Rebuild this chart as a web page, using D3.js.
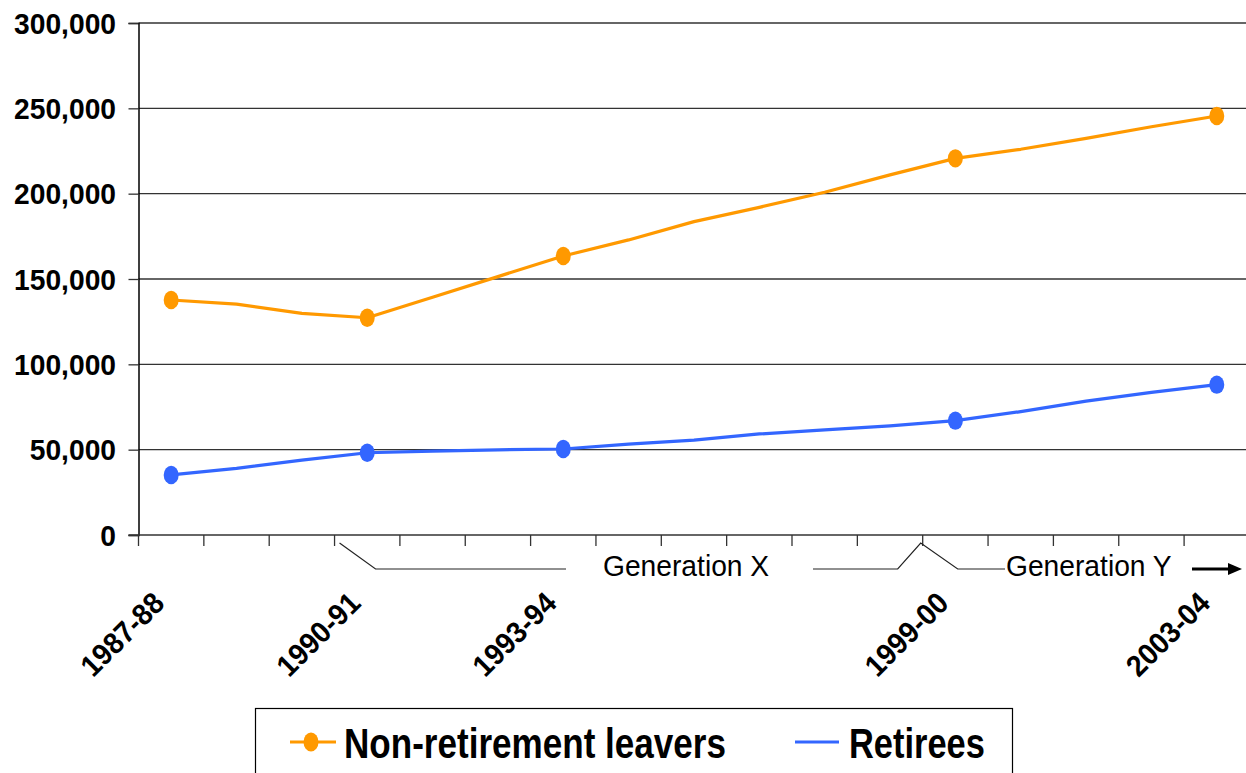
<!DOCTYPE html>
<html>
<head>
<meta charset="utf-8">
<script src="https://cdn.jsdelivr.net/npm/d3@7"></script>
<style>
  html, body { margin: 0; padding: 0; background: #fff; }
  svg { display: block; }
  text { font-family: "Liberation Sans", Arial, sans-serif; }
</style>
</head>
<body>
<svg id="chart" width="1246" height="773"></svg>
<script>
// ---- data ----
const years = ["1987-88","1988-89","1989-90","1990-91","1991-92","1992-93","1993-94","1994-95",
  "1995-96","1996-97","1997-98","1998-99","1999-00","2000-01","2001-02","2002-03","2003-04"];
const labelledYears = ["1987-88","1990-91","1993-94","1999-00","2003-04"];
const nonRetirement = [137700,135300,129900,127300,139300,151400,163500,172900,183600,192000,
  200800,211000,220700,226000,232400,239200,245500];
const retirees = [35200,39000,43900,48200,49200,49900,50400,53200,55600,59200,61600,63900,
  67000,72300,78400,83600,88100];
const yTicks = [0,50000,100000,150000,200000,250000,300000];
const seriesNames = ["Non-retirement leavers","Retirees"];
const generationLabels = ["Generation X","Generation Y"];

(function () {
// ---- layout ----
const svg = d3.select("#chart");
const left = 138.5, bottomY = 535, topY = 23, band = 65.35;
const x = d3.scaleBand().domain(years).range([left, left + band * years.length]).padding(0);
const y = d3.scaleLinear().domain([0, 300000]).range([bottomY, topY]);
const cx = d => x(d) + x.bandwidth() / 2;
const fmt = d3.format(",");

// gridlines
svg.append("g").selectAll("line").data(yTicks.filter(t => t > 0)).join("line")
  .attr("x1", left).attr("x2", 1246)
  .attr("y1", d => y(d)).attr("y2", d => y(d))
  .attr("stroke", "#333").attr("stroke-width", 1.3);

// y axis
const yAxis = svg.append("g").attr("transform", `translate(${left},0)`)
  .call(d3.axisLeft(y).tickValues(yTicks).tickSize(10).tickFormat(""));
yAxis.select(".domain").attr("stroke", "#000").attr("stroke-width", 1.5);
yAxis.selectAll(".tick line").attr("stroke", "#333").attr("stroke-width", 1.3);

svg.append("g").selectAll("text").data(yTicks).join("text")
  .attr("transform", d => `translate(116,${y(d)}) scale(0.94,1)`)
  .attr("text-anchor", "end").attr("dy", "0.36em")
  .attr("font-size", 30).attr("font-weight", "bold").attr("fill", "#000")
  .text(d => fmt(d));

// x axis line + ticks at band boundaries
svg.append("line").attr("x1", left - 10).attr("x2", 1246)
  .attr("y1", bottomY).attr("y2", bottomY).attr("stroke", "#333").attr("stroke-width", 1.5);
const boundaries = d3.range(years.length + 1).map(i => left + i * x.bandwidth());
svg.append("g").selectAll("line").data(boundaries).join("line")
  .attr("x1", d => d).attr("x2", d => d).attr("y1", bottomY).attr("y2", bottomY + 11)
  .attr("stroke", "#333").attr("stroke-width", 1.3);

// x labels
svg.append("g").selectAll("text").data(labelledYears).join("text")
  .attr("transform", d => `translate(${cx(d) - 5},605) rotate(-45) scale(0.94,1)`)
  .attr("text-anchor", "end")
  .attr("font-size", 30).attr("font-weight", "bold").attr("fill", "#000")
  .text(d => d);

// lines
const colors = ["#FF9900", "#3366FF"];
const seriesData = [nonRetirement, retirees];
const line = d3.line().x((d, i) => cx(years[i])).y(d => y(d));
seriesData.forEach((s, k) => {
  svg.append("path").datum(s).attr("d", line)
    .attr("fill", "none").attr("stroke", colors[k]).attr("stroke-width", 3.2)
    .attr("stroke-linejoin", "round");
  svg.append("g").selectAll("ellipse")
    .data(years.map((yr, i) => ({yr, v: s[i]})).filter(d => labelledYears.includes(d.yr)))
    .join("ellipse")
    .attr("cx", d => cx(d.yr)).attr("cy", d => y(d.v))
    .attr("rx", 7.5).attr("ry", 9.2).attr("fill", colors[k]);
});

// generation annotations
const ann = svg.append("g").attr("fill", "none").attr("stroke", "#222").attr("stroke-width", 1.2);
const bY = 569, bTop = 543;
const genXStart = x("1990-91") + 5;
const genYPeak = x("1999-00") - 2;
ann.append("polyline").attr("points",
  `${genXStart},${bTop} ${genXStart + 36},${bY} ${566},${bY}`);
ann.append("polyline").attr("points",
  `${813},${bY} ${genYPeak - 23},${bY} ${genYPeak},${bTop} ${genYPeak + 37},${bY} ${1005},${bY}`);

svg.append("text").attr("transform", `translate(603,576) scale(0.94,1)`)
  .attr("font-size", 30).attr("fill", "#000").text(generationLabels[0]);
svg.append("text").attr("transform", `translate(1006,576) scale(0.94,1)`)
  .attr("font-size", 30).attr("fill", "#000").text(generationLabels[1]);

// arrow
svg.append("line").attr("x1", 1192).attr("x2", 1229).attr("y1", bY).attr("y2", bY)
  .attr("stroke", "#000").attr("stroke-width", 3);
svg.append("path").attr("d", `M1228,${bY - 6} L1242,${bY} L1228,${bY + 6} Z`).attr("fill", "#000");

// legend
const lg = svg.append("g");
lg.append("rect").attr("x", 255.5).attr("y", 708.5).attr("width", 757).attr("height", 90)
  .attr("fill", "#fff").attr("stroke", "#000").attr("stroke-width", 1.2);
lg.append("line").attr("x1", 290).attr("x2", 336).attr("y1", 742).attr("y2", 742)
  .attr("stroke", colors[0]).attr("stroke-width", 3.2);
lg.append("ellipse").attr("cx", 311).attr("cy", 742).attr("rx", 7.5).attr("ry", 9.5).attr("fill", colors[0]);
lg.append("line").attr("x1", 795).attr("x2", 839).attr("y1", 742).attr("y2", 742)
  .attr("stroke", colors[1]).attr("stroke-width", 3.2);
lg.append("text").attr("transform", "translate(344,758) scale(0.835,1)")
  .attr("font-size", 42).attr("font-weight", "bold").attr("fill", "#000").text(seriesNames[0]);
lg.append("text").attr("transform", "translate(849,758) scale(0.82,1)")
  .attr("font-size", 42).attr("font-weight", "bold").attr("fill", "#000").text(seriesNames[1]);
})();
</script>
</body>
</html>
